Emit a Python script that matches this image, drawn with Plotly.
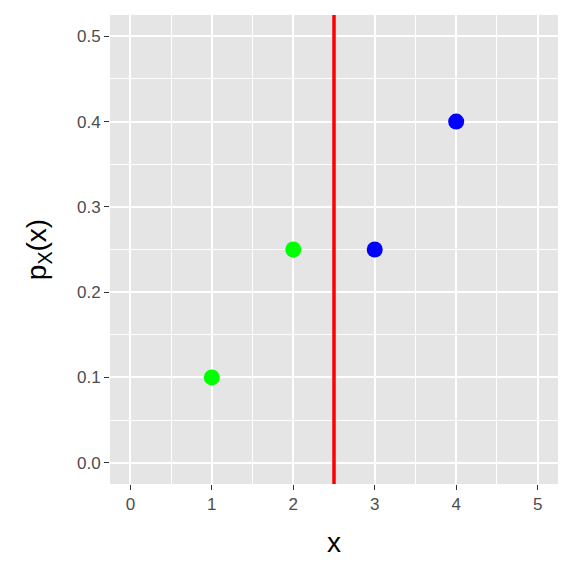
import plotly.graph_objects as go

x_low = [1, 2]
p_low = [0.10, 0.25]
x_high = [3, 4]
p_high = [0.25, 0.40]
cutoff = 2.5
x_ticks = [0, 1, 2, 3, 4, 5]
y_ticks = [0.0, 0.1, 0.2, 0.3, 0.4, 0.5]

fig = go.Figure()
fig.add_trace(go.Scatter(x=x_low, y=p_low, mode="markers",
                         marker=dict(color="#00ff00", size=16), showlegend=False))
fig.add_trace(go.Scatter(x=x_high, y=p_high, mode="markers",
                         marker=dict(color="#0000ff", size=16), showlegend=False))
fig.add_shape(type="line", x0=cutoff, x1=cutoff, y0=0, y1=1, xref="x", yref="paper",
              line=dict(color="#ff0000", width=3.5))

font_fam = "Liberation Sans, Arial"
axis_common = dict(
    showgrid=True, gridcolor="white", gridwidth=1.6,
    zeroline=False, ticks="outside", ticklen=5, tickwidth=1.4, tickcolor="#333333",
    tickfont=dict(family=font_fam, size=17, color="#4d4d4d"),
    showline=False,
)

fig.update_xaxes(range=[-0.25, 5.25], tickvals=x_ticks, ticktext=[str(v) for v in x_ticks],
                 title=dict(text="x", font=dict(family=font_fam, size=28, color="black"), standoff=18),
                 minor=dict(showgrid=True, gridcolor="white", gridwidth=0.7, ticks="", dtick=0.5),
                 **axis_common)
fig.update_yaxes(range=[-0.025, 0.525], tickvals=y_ticks, ticktext=[f"{v:.1f}" for v in y_ticks],
                 title=dict(text="p<sub>X</sub>(x)", font=dict(family=font_fam, size=28, color="black"), standoff=22),
                 minor=dict(showgrid=True, gridcolor="white", gridwidth=0.7, ticks="",
                            tickvals=[0.05, 0.15, 0.25, 0.35, 0.45]),
                 **axis_common)

fig.update_layout(
    width=568, height=568,
    margin=dict(l=102, r=18, t=7, b=92),
    plot_bgcolor="#e5e5e5", paper_bgcolor="white",
)

fig.write_html("out.html")
